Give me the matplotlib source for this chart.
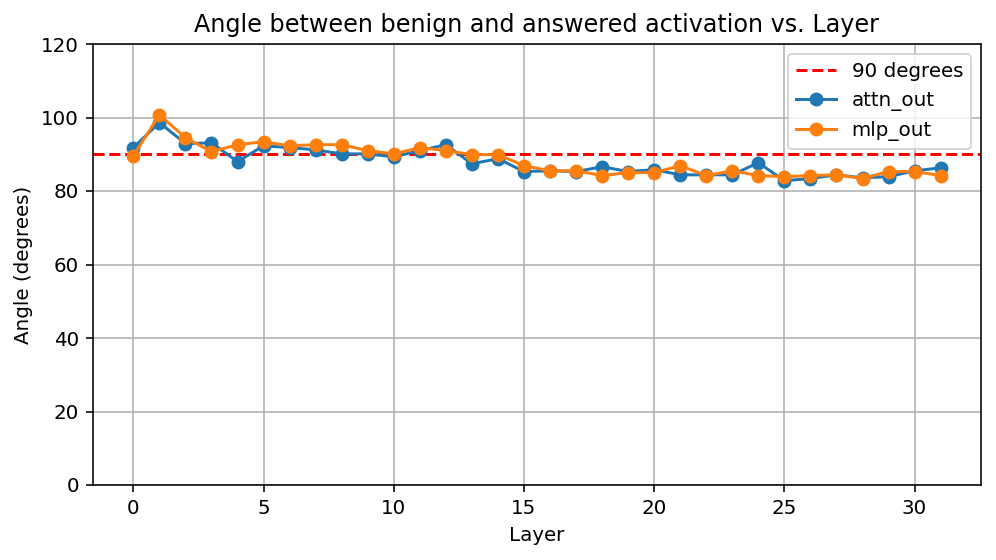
import matplotlib
matplotlib.use("Agg")
import matplotlib.pyplot as plt

layers = list(range(32))
attn_out = [91.8, 98.6, 92.9, 93.1, 88.0, 92.3, 91.8, 91.2, 90.1, 90.1, 89.3, 91.0,
            92.6, 87.4, 88.8, 85.3, 85.5, 85.3, 86.6, 85.3, 85.8, 84.4, 84.4, 84.4,
            87.7, 82.8, 83.4, 84.4, 83.6, 83.9, 85.5, 86.3]
mlp_out = [89.6, 100.7, 94.5, 90.7, 92.6, 93.4, 92.3, 92.6, 92.6, 91.0, 90.1, 91.8,
           91.0, 89.9, 89.9, 86.9, 85.5, 85.5, 84.2, 85.0, 85.0, 86.9, 84.2, 85.5,
           84.2, 83.9, 84.2, 84.4, 83.4, 85.3, 85.3, 84.2]
ref_angle = 90

DPI = 143
fig, ax = plt.subplots(figsize=(996/DPI, 560/DPI), dpi=DPI)
fig.subplots_adjust(left=93/996, right=981/996, top=1-44/560, bottom=1-485/560)

ax.axhline(ref_angle, color='red', linestyle='--', label='90 degrees')
ax.plot(layers, attn_out, marker='o', label='attn_out')
ax.plot(layers, mlp_out, marker='o', label='mlp_out')
ax.set_ylim(0, 120)
ax.set_title('Angle between benign and answered activation vs. Layer')
ax.set_xlabel('Layer')
ax.set_ylabel('Angle (degrees)')
ax.grid(True)
ax.legend(loc='upper right')

fig.savefig('out.png', dpi=DPI)
